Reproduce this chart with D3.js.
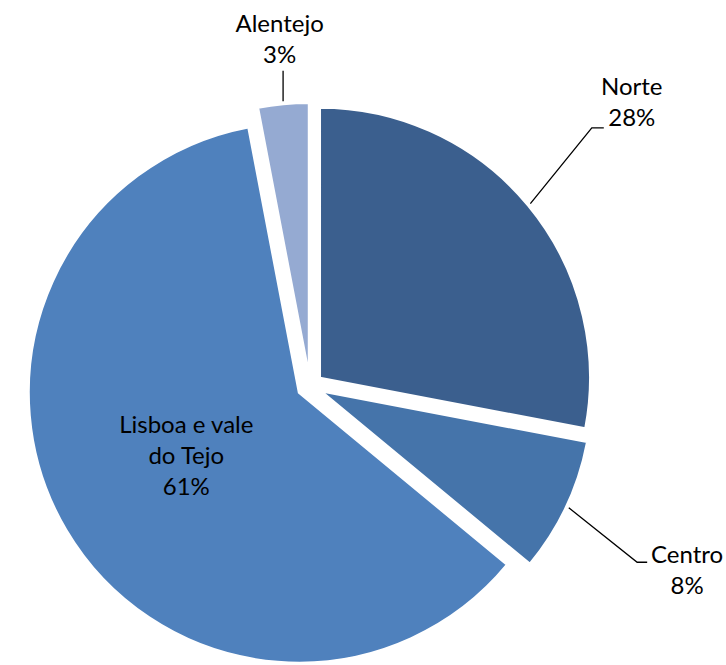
<!DOCTYPE html>
<meta charset="utf-8">
<style>
body { margin: 0; background: #fff; }
path.slice { stroke: #fff; stroke-width: 2px; }
path.leader { fill: none; stroke: #000; stroke-width: 1.3px; }
text.lbl { font-family: Lato, "Open Sans", sans-serif; font-size: 24px; fill: #000; }
</style>
<body>
<div id="pie"></div>
<script src="https://cdn.jsdelivr.net/npm/d3@7"></script>
<script>
// Regions and their share (%)
var regions = ["Norte", "Centro", "Lisboa e vale do Tejo", "Alentejo"];
var shares = [28, 8, 61, 3];
var nameLines = [["Norte"], ["Centro"], ["Lisboa e vale", "do Tejo"], ["Alentejo"]];
var colors = ["#3b5f8e", "#4574aa", "#4f81bd", "#95aad2"];

var width = 726, height = 665;
var cx = 310, cy = 386;
var radius = 270;
var explode = 13;
var lineH = 31;

// label placement (angle in degrees from 12 o'clock, distance from centre)
var labelLayout = [
  {a: 48.6, r: 429, inside: false},
  {a: 116.1, r: 420, inside: false},
  {a: 240.6, r: 142, inside: true},
  {a: 355, r: 348, inside: false}
];

var svg = d3.select("#pie").append("svg")
    .attr("width", width)
    .attr("height", height);

var g = svg.append("g").attr("transform", "translate(" + cx + "," + cy + ")");

var pie = d3.pie().sort(null).value(function (d) { return d; });
var arcs = pie(shares);

var arc = d3.arc().innerRadius(0).outerRadius(radius);

function mid(d) { return (d.startAngle + d.endAngle) / 2; }
function offset(d, r) {
  var a = mid(d);
  return [Math.sin(a) * r, -Math.cos(a) * r];
}

g.selectAll("path.slice")
  .data(arcs)
  .enter().append("path")
  .attr("class", "slice")
  .attr("fill", function (d, i) { return colors[i]; })
  .attr("transform", function (d) {
    var o = offset(d, explode);
    return "translate(" + o[0] + "," + o[1] + ")";
  })
  .attr("d", arc);

// labels
arcs.forEach(function (d, i) {
  var lay = labelLayout[i];
  var ang = lay.a * Math.PI / 180;
  var lx = Math.sin(ang) * lay.r;
  var ly = -Math.cos(ang) * lay.r;
  var lines = nameLines[i].concat([shares[i] + "%"]);
  var n = lines.length;
  var firstBase = ly - (n - 1) * lineH / 2 + 8;

  var t = g.append("text").attr("class", "lbl").attr("text-anchor", "middle");
  lines.forEach(function (s, k) {
    t.append("tspan").attr("x", lx).attr("y", firstBase + k * lineH).text(s);
  });

  if (lay.inside) return;

  // leader line from the slice edge
  var o = offset(d, explode);
  var e = offset(d, radius + 3);
  var sx = o[0] + e[0], sy = o[1] + e[1];
  var pts;
  if (i === 0) {
    pts = [[sx, sy], [lx - 40, ly + 25.5], [lx - 28, ly + 25.5]];
  } else if (i === 1) {
    pts = [[sx, sy], [lx - 50, ly - 8.5], [lx - 40, ly - 8.5]];
  } else {
    pts = [[sx, sy], [sx, ly + 31.5]];
  }
  g.append("path").attr("class", "leader").attr("d", d3.line()(pts));
});
</script>
</body>
